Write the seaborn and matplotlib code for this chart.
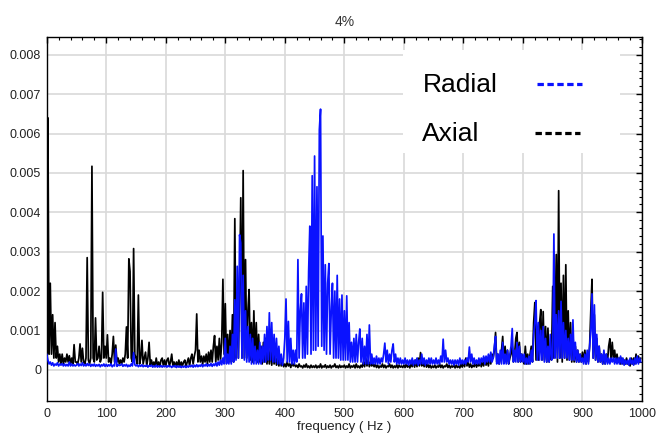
import matplotlib
matplotlib.use("Agg")
import matplotlib.pyplot as plt
import pandas as pd
import seaborn as sns
from matplotlib.lines import Line2D
from matplotlib.patches import Rectangle
from matplotlib.ticker import MultipleLocator, FuncFormatter

# ---------------- data ----------------
TITLE = "4%"
X_LABEL = "frequency ( Hz )"
SERIES = ["Radial", "Axial"]
X_TICKS = [0, 100, 200, 300, 400, 500, 600, 700, 800, 900, 1000]
Y_TICKS = [0, 0.001, 0.002, 0.003, 0.004, 0.005, 0.006, 0.007, 0.008]

# spectrum bins, 2 Hz apart (0 .. 998 Hz)
freq_hz = list(range(0, 1000, 2))
AMP_UNIT = 1e-4  # amplitudes below are given in units of 1e-4

axial_amp = [
    # 0-48 Hz
    47, 64, 4, 22, 4, 14, 3, 12, 3, 6, 2, 4, 1.5, 4, 1.5, 3, 2, 4, 2, 3.6, 1.5, 3, 1.5, 6.4, 2,
    # 50-98
    2, 1.5, 3, 6.6, 2, 5.5, 2, 1.5, 3, 28.5, 2.5, 1.5, 3, 51.7, 3, 2, 13.2, 2.5, 3, 6, 2, 3, 19.7, 3, 6,
    # 100-148
    3, 8.9, 2, 3, 1.5, 4, 8.5, 2, 6.3, 2, 3, 1.5, 2.5, 1.5, 3, 2, 4, 10.9, 3, 28.2, 25, 3, 2, 30.8, 4,
    # 150-198
    3, 1.5, 19, 1.5, 3, 7.5, 1.5, 3, 4.5, 1, 3, 7, 1.2, 2.5, 1, 2, 0.8, 3, 1, 2, 0.8, 2.5, 3, 1, 2.5,
    # 200-248
    1, 2.5, 3, 1, 2, 4, 1, 2, 0.8, 2, 1, 2.5, 0.8, 2, 1, 2, 2.5, 0.8, 2, 3, 1, 3, 4, 1.5, 3.5,
    # 250-298
    5, 14.2, 2, 5, 2, 3.5, 1.5, 3.5, 2, 4, 1.5, 4.5, 2, 5, 2, 6, 8.7, 2, 6, 2.5, 8, 2.5, 7, 23, 4,
    # 300-348
    16.8, 2, 9, 2, 10, 2, 14, 2, 38.4, 3, 18, 3, 20, 43.7, 3, 50.6, 3, 28, 3, 15, 20.4, 2.5, 12, 2, 15,
    # 350-398
    2.5, 12, 2, 9, 2, 6, 1.5, 7, 2, 8, 1.5, 5, 1.5, 6, 1.2, 5, 1.5, 4, 1.2, 3, 1, 3, 1, 2, 0.8,
    # 400-448
    1.5, 0.8, 2, 1, 1.5, 0.6, 2, 1, 1.5, 0.8, 1.2, 0.6, 1.5, 0.8, 1, 0.5, 1.2, 0.7, 1.5, 0.6, 1, 0.5, 1.2, 0.6, 1,
    # 450-498
    0.6, 1.2, 0.5, 1, 0.6, 1.5, 0.5, 1, 0.7, 1.3, 0.5, 1, 0.6, 1.2, 0.5, 1, 0.8, 1.5, 0.6, 1, 0.5, 1.2, 0.6, 1, 0.7,
    # 500-548
    1.2, 0.5, 1, 0.6, 1.5, 0.5, 1, 0.7, 1.2, 0.5, 1.5, 0.6, 1, 0.5, 1.2, 0.7, 2, 0.8, 3, 1, 2.5, 0.8, 2, 1, 1.5,
    # 550-598
    0.8, 1.5, 0.6, 1.2, 0.5, 1, 0.7, 1.5, 0.6, 1.2, 0.5, 1, 0.8, 1.5, 0.6, 1.2, 0.5, 1, 0.6, 1.3, 0.5, 1.2, 0.7, 1, 0.6,
    # 600-648
    1.2, 0.6, 1.5, 0.7, 1.2, 0.5, 1.5, 0.8, 2, 0.7, 2.5, 0.8, 3, 1, 4.4, 1, 2.5, 0.8, 2, 0.7, 1.5, 0.6, 1.2, 0.5, 1,
    # 650-698
    0.6, 1.2, 0.5, 1, 0.7, 1.5, 0.6, 1.2, 0.5, 1, 0.8, 1.5, 0.6, 1.2, 0.5, 1, 0.7, 1.3, 0.5, 1.2, 0.6, 1, 0.5, 1.5, 0.7,
    # 700-748
    2, 0.8, 3, 1, 2, 0.7, 1.5, 0.6, 1.2, 0.8, 2, 0.7, 1.5, 1, 2.5, 0.8, 2, 1, 3, 1.2, 2.5, 1, 3.5, 1.5, 4,
    # 750-798
    3, 5, 9.5, 2, 4, 1.5, 3, 5, 8.5, 2, 6, 2, 5, 1.5, 3, 4, 6, 2, 4, 8, 9.5, 2, 7, 2, 4,
    # 800-848
    3, 1.5, 6, 1.5, 4, 1.5, 4, 6, 2, 12, 17.1, 2.5, 10, 2.5, 12, 15.3, 2.5, 14.8, 2.5, 11, 2, 10.6, 2, 6, 2.5,
    # 850-898
    21.2, 3, 12, 29.3, 2, 45.5, 3, 22, 2, 24, 3, 26.7, 2.5, 15, 2.5, 12, 2, 9, 2, 6, 2, 5, 2, 4, 2,
    # 900-948
    4.5, 2, 5, 1.5, 4, 2, 6, 15, 23, 3, 14, 2.5, 8, 2, 6, 2, 4, 1.5, 3.5, 1.5, 4, 2, 6, 7.9, 2.5,
    # 950-998
    7, 3, 5, 2, 4, 2, 3, 1.5, 3, 1.5, 2.5, 1.5, 3, 1.5, 2, 1, 3, 1.5, 3, 1.5, 4, 2, 3.5, 2, 3,
]

radial_amp = [
    # 0-48 Hz
    4, 2.5, 1.5, 2, 1.2, 1.8, 1, 1.5, 1.2, 1.8, 1, 1.5, 1.2, 1.6, 1, 1.5, 1, 1.4, 1, 2, 1, 1.5, 1, 1.3, 1,
    # 50-98
    1.2, 1.6, 1, 1.5, 1.1, 1.8, 1, 1.4, 1, 1.6, 1.1, 1.5, 0.9, 1.4, 1, 1.5, 0.9, 1.3, 1, 1.4, 0.8, 1.3, 1, 1.5, 0.9,
    # 100-148
    1.4, 0.9, 1.3, 1, 1.5, 0.8, 1.2, 1, 5.3, 0.9, 1.3, 1.1, 1.2, 1.5, 0.9, 1.3, 1, 1.4, 0.8, 1.2, 0.9, 1.5, 1, 4.4, 1.3,
    # 150-198
    1, 1.3, 0.8, 1.2, 0.9, 1.3, 0.8, 1.1, 0.9, 1.2, 0.7, 1.1, 0.9, 1.2, 0.7, 1, 0.8, 1.2, 0.7, 1, 0.8, 1.1, 0.7, 1, 0.8,
    # 200-248
    1, 0.7, 1.1, 0.8, 1, 0.6, 1, 0.8, 1.1, 0.6, 1, 0.7, 1, 0.6, 0.9, 0.7, 1, 0.6, 1, 0.7, 1.1, 0.8, 1.2, 0.7, 1.2,
    # 250-298
    0.8, 1.3, 0.8, 1.2, 0.9, 1.4, 0.8, 1.3, 1, 1.5, 0.9, 1.4, 1, 1.6, 0.9, 1.5, 1.1, 1.8, 1, 2, 1.2, 2.5, 1.3, 3, 1.5,
    # 300-348
    8, 1.5, 4, 1.5, 6, 1.5, 9, 2, 17.8, 2.5, 26.3, 3, 34.3, 32.2, 3, 24, 2.5, 15, 2, 11, 2, 9, 1.5, 8, 1.5,
    # 350-398
    6, 1.5, 5, 1.5, 7, 1.5, 6, 2, 9, 2, 11, 2.5, 14.5, 2.5, 12, 2, 9, 2, 8, 1.5, 6, 1.5, 4, 1.2, 3,
    # 400-448
    8, 18, 2, 12.3, 2, 8, 1.5, 5, 1.5, 5, 2, 28, 3, 15, 19.3, 3, 17, 3, 21.2, 4, 25, 36.5, 4, 49.3, 5,
    # 450-498
    54.3, 5, 46.5, 6, 61, 66.2, 6, 34, 5, 26.7, 4, 22, 27, 4, 15, 22, 3, 20, 3, 24, 3, 18, 2.5, 19, 2.5,
    # 500-548
    15, 2.5, 18.8, 2.5, 12, 2, 7, 2, 8, 2, 9, 2, 7, 10.4, 2, 8, 1.5, 6, 1.5, 9, 1.5, 11.4, 1.5, 4, 1.5,
    # 550-598
    3, 1.5, 3.5, 1.5, 3, 1.5, 3, 2, 4, 6.8, 2, 5, 1.5, 4, 2, 5, 6.6, 2, 4, 1.5, 3, 1.5, 3, 1.5, 2.5,
    # 600-648
    1.5, 3, 1.5, 2.5, 1.2, 2.5, 1.5, 3, 1.2, 2.5, 1.5, 3, 1.2, 2.5, 1.5, 4, 1.5, 3, 1.2, 2.5, 1.5, 3, 1.5, 3, 1.5,
    # 650-698
    2.5, 1.5, 3, 1.5, 2.5, 1.5, 3.5, 2, 7.8, 2, 5, 2, 3, 1.5, 2.5, 1.5, 2.5, 1.2, 2.5, 1.5, 2.5, 1.2, 3, 1.5, 2.5,
    # 700-748
    1.5, 2.5, 1.5, 3, 2, 5.8, 2, 4, 1.5, 3, 1.5, 2.5, 1.5, 3, 1.5, 3, 2, 3.5, 1.5, 3.5, 2, 4, 2, 4.5, 2,
    # 750-798
    3, 6, 8.5, 1.5, 4, 1.5, 5, 1.5, 7, 1.5, 4, 1.5, 5, 1.5, 4, 6, 10.5, 2, 5, 2, 7, 2, 6, 2, 4,
    # 800-848
    2, 4, 1.5, 3, 1.5, 3.5, 1.5, 5, 2, 9, 12, 17.6, 2.5, 12, 2.5, 10, 2.5, 11, 2, 8, 2, 6, 2, 9, 2.5,
    # 850-898
    3, 34.5, 3, 14, 3, 15, 3, 17.4, 3, 12, 3, 10, 3, 8, 2.5, 9, 2.5, 12.7, 2.5, 7, 2, 5, 2, 4, 2,
    # 900-948
    3, 1.5, 4, 1.5, 5, 1.5, 6, 10, 19.3, 3, 16.5, 2.5, 9, 2, 6, 2, 4, 1.5, 5, 1.5, 4, 1.5, 3, 1.5, 3,
    # 950-998
    2, 3, 1.5, 3, 1.5, 3, 1.5, 3.5, 1.5, 3, 1.2, 2.5, 1.5, 2.5, 1.2, 3, 1.5, 2.5, 1.2, 3, 1.5, 3.5, 1.5, 3, 2,
]

assert len(axial_amp) == len(freq_hz) and len(radial_amp) == len(freq_hz)

df = pd.DataFrame({
    "freq": freq_hz,
    "Axial": [v * AMP_UNIT for v in axial_amp],
    "Radial": [v * AMP_UNIT for v in radial_amp],
})

# ---------------- style ----------------
sns.set_theme(style="white")
plt.rcParams["font.family"] = ["Liberation Sans", "DejaVu Sans"]

COL_RADIAL = "#0a12ff"
COL_AXIAL = "#000000"

W, H = 671, 434
AX_L, AX_R, AX_T, AX_B = 46.7, 642.0, 36.7, 401.0
fig = plt.figure(figsize=(W / 100, H / 100), dpi=100)
ax = fig.add_axes([AX_L / W, 1 - AX_B / H, (AX_R - AX_L) / W, (AX_B - AX_T) / H])

sns.lineplot(data=df, x="freq", y="Axial", color=COL_AXIAL, lw=1.25,
             estimator=None, sort=False, ax=ax, zorder=3)
sns.lineplot(data=df, x="freq", y="Radial", color=COL_RADIAL, lw=1.25,
             estimator=None, sort=False, ax=ax, zorder=4)

ax.set_xlim(0, 1000)
ax.set_ylim(-0.00079, 0.00846)
ax.set_xticks(X_TICKS)
ax.set_yticks(Y_TICKS)
ax.xaxis.set_minor_locator(MultipleLocator(20))
ax.yaxis.set_minor_locator(MultipleLocator(0.0002))
ax.yaxis.set_major_formatter(FuncFormatter(lambda v, p: "0" if abs(v) < 1e-12 else f"{v:.3f}"))

ax.grid(True, which="major", color="#d9d9d9", lw=1.2)
ax.set_axisbelow(True)
for s in ax.spines.values():
    s.set_color("black")
    s.set_linewidth(1.0)

ax.tick_params(which="both", direction="in", top=True, right=True,
               colors="black", labelcolor="#222222", labelsize=9)
ax.tick_params(which="major", length=4.5, width=1)
ax.tick_params(which="minor", length=2.2, width=0.8)
ax.tick_params(axis="x", pad=5)
ax.tick_params(axis="y", pad=4)

ax.set_title(TITLE, fontsize=10, color="#333333", pad=7.5)
ax.set_xlabel(X_LABEL, fontsize=9.5, color="#222222", labelpad=1)
ax.set_ylabel("")

# ---------------- legend (white box, label then dashed sample) ----------------
def axx(px):
    return (px - AX_L) / (AX_R - AX_L)

def axy(py):
    return (AX_B - py) / (AX_B - AX_T)

ax.add_patch(Rectangle((axx(403), axy(153)), axx(620) - axx(403), axy(50) - axy(153),
                       transform=ax.transAxes, facecolor="white", edgecolor="none",
                       zorder=6, clip_on=False))
legend_rows = [
    (SERIES[0], COL_RADIAL, 422.7, 91.7, 537, 582, 83.7),
    (SERIES[1], COL_AXIAL, 421.7, 141.0, 535, 580, 133.3),
]
for label, col, tx, ty, lx0, lx1, ly in legend_rows:
    ax.text(axx(tx), axy(ty), label, transform=ax.transAxes, fontsize=19,
            color="black", ha="left", va="baseline", zorder=7)
    ax.add_line(Line2D([axx(lx0), axx(lx1)], [axy(ly), axy(ly)], transform=ax.transAxes,
                       color=col, lw=2.3, linestyle=(0, (2.0, 1.1)), zorder=7,
                       solid_capstyle="butt", dash_capstyle="butt"))

fig.savefig("out.png", dpi=100)
